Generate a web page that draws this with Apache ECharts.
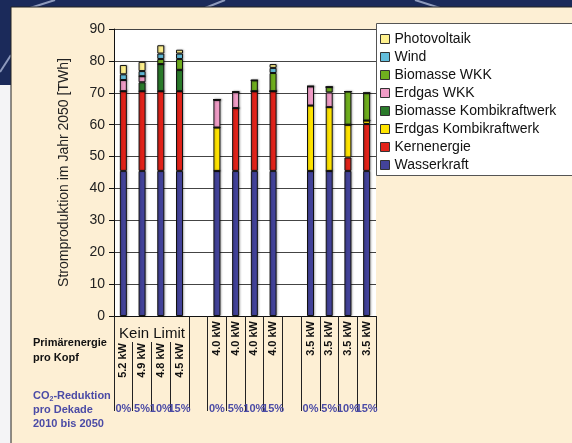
<!DOCTYPE html>
<html>
<head>
<meta charset="utf-8">
<script src="https://cdn.jsdelivr.net/npm/echarts@6/dist/echarts.min.js"></script>
<style>
html, body { margin: 0; padding: 0; }
#chart { width: 572px; height: 443px; }
</style>
</head>
<body>
<div id="chart"></div>
<script>
// Szenarien: Primärenergie pro Kopf / CO2-Reduktion pro Dekade ('' = Lücke)
const categories = ['5.2 kW', '4.9 kW', '4.8 kW', '4.5 kW', '', '4.0 kW', '4.0 kW', '4.0 kW', '4.0 kW', '', '3.5 kW', '3.5 kW', '3.5 kW', '3.5 kW'];
const reductions = ['0%', '5%', '10%', '15%', '', '0%', '5%', '10%', '15%', '', '0%', '5%', '10%', '15%'];
const yMin = 0, yMax = 90, yStep = 10;

// Stromproduktion 2050 [TWh], je Technologie (von unten nach oben gestapelt)
const wasserkraft   = [45.5, 45.5, 45.5, 45.5, '-', 45.5, 45.5, 45.5, 45.5, '-', 45.5, 45.5, 45.5, 45.5];
const kernenergie   = [25, 25, 25, 25, '-', 0, 19.7, 25, 25, '-', 0, 0, 4.2, 14.7];
const erdgasKombi   = [0, 0, 0, 0, '-', 13.6, 0, 0, 0, '-', 20.5, 20, 10.3, 1.1];
const biomasseKombi = [0, 2.8, 8.5, 6.7, '-', 0, 0, 0, 0, '-', 0, 0, 0, 0];
const erdgasWKK     = [3.5, 1.9, 0, 0, '-', 8.7, 5, 0, 0, '-', 6, 4.6, 0, 0];
const biomasseWKK   = [0, 0, 1.6, 3.4, '-', 0, 0, 3.4, 5.7, '-', 0, 1.7, 10.4, 8.6];
const wind          = [1.8, 1.6, 1.7, 1.7, '-', 0, 0, 0, 1.6, '-', 0, 0, 0, 0];
const photovoltaik  = [2.9, 2.9, 2.6, 1.2, '-', 0, 0, 0, 1.2, '-', 0, 0, 0, 0];

const seriesList = [
  ['Wasserkraft', wasserkraft, '#43439A'],
  ['Kernenergie', kernenergie, '#E2231A'],
  ['Erdgas Kombikraftwerk', erdgasKombi, '#FFE400'],
  ['Biomasse Kombikraftwerk', biomasseKombi, '#2B7B2B'],
  ['Erdgas WKK', erdgasWKK, '#F09CC6'],
  ['Biomasse WKK', biomasseWKK, '#6FAE1E'],
  ['Wind', wind, '#63BEDC'],
  ['Photovoltaik', photovoltaik, '#FFF18E']
];

const blue = '#4B4BA6';
const font = 'Liberation Sans, Arial, sans-serif';

let myChart = echarts.init(document.getElementById('chart'));
let option = {
  backgroundColor: '#1B2A5A',
  textStyle: { fontFamily: font },
  animation: false,
  grid: {
    left: 114, right: 196, top: 29, bottom: 127,
    outerBoundsMode: 'none',
    show: true, backgroundColor: '#fff', borderWidth: 0
  },
  legend: {
    orient: 'vertical',
    left: 375, top: 27,
    itemWidth: 9, itemHeight: 9, itemGap: 4,
    icon: 'rect',
    data: seriesList.map(s => s[0]).reverse(),
    textStyle: { fontSize: 14, color: '#111', fontFamily: font },
    itemStyle: { borderColor: '#333', borderWidth: 1 }
  },
  xAxis: [
    {
      type: 'category', data: categories, position: 'bottom',
      axisLine: { lineStyle: { color: '#111' } },
      axisTick: { show: true, length: 95, interval: (i) => i < 1 || i > 3, lineStyle: { color: '#222' } },
      axisLabel: {
        interval: 0, rotate: 90, margin: 5, fontSize: 11, fontWeight: 'bold', color: '#111',
        formatter: (v, i) => (i < 4 ? '' : v)
      }
    },
    {
      type: 'category', data: categories, position: 'bottom', offset: 26,
      axisLine: { show: false },
      axisTick: { show: true, length: 69, interval: (i) => i >= 1 && i <= 3, lineStyle: { color: '#222' } },
      axisLabel: {
        interval: 0, rotate: 90, margin: 1, fontSize: 11, fontWeight: 'bold', color: '#111',
        formatter: (v, i) => (i < 4 ? v : '')
      }
    },
    {
      type: 'category', data: categories, position: 'bottom', offset: 85,
      axisLine: { show: false },
      axisTick: { show: false },
      axisLabel: {
        interval: 0, margin: 2, fontSize: 11, fontWeight: 'bold', color: blue,
        formatter: (v, i) => reductions[i]
      }
    }
  ],
  yAxis: {
    type: 'value', min: yMin, max: yMax, interval: yStep,
    name: 'Stromproduktion im Jahr 2050 [TWh]',
    nameLocation: 'middle', nameGap: 43,
    nameTextStyle: { fontSize: 14, color: '#222' },
    axisLine: { show: true, lineStyle: { color: '#111' } },
    axisTick: { show: true, length: 5, lineStyle: { color: '#111' } },
    axisLabel: { fontSize: 14, color: '#222', margin: 9 },
    splitLine: { lineStyle: { color: '#444' } }
  },
  series: seriesList.map(s => ({
    name: s[0],
    type: 'bar',
    stack: 'total',
    xAxisIndex: 0,
    barWidth: 7,
    data: s[1],
    itemStyle: {
      color: s[2], borderColor: '#111', borderWidth: 1,
      shadowColor: 'rgba(0,0,0,0.25)', shadowBlur: 2, shadowOffsetX: 1, shadowOffsetY: 0
    }
  })),
  graphic: [
    // Hintergrund
    { type: 'line', z: -10, shape: { x1: 55, y1: 0, x2: 30, y2: 8 }, style: { stroke: 'rgba(220,230,255,0.6)', lineWidth: 2 } },
    { type: 'line', z: -10, shape: { x1: 205, y1: 8, x2: 225, y2: 0 }, style: { stroke: 'rgba(220,230,255,0.6)', lineWidth: 2 } },
    { type: 'line', z: -10, shape: { x1: 415, y1: 0, x2: 440, y2: 8 }, style: { stroke: 'rgba(220,230,255,0.6)', lineWidth: 2 } },
    { type: 'line', z: -10, shape: { x1: 11, y1: 55, x2: 0, y2: 72 }, style: { stroke: 'rgba(220,230,255,0.6)', lineWidth: 2 } },
    { type: 'rect', z: -10, shape: { x: 0, y: 85, width: 11, height: 358 }, style: { fill: '#F4F4F6' } },
    { type: 'rect', z: -9, shape: { x: 11, y: 7, width: 570, height: 445 }, style: { fill: '#FDEFD4', stroke: '#222', lineWidth: 1 } },
    // Legendenrahmen
    { type: 'rect', z: 3, shape: { x: 376.5, y: 23.5, width: 200, height: 152 }, style: { fill: '#fff', stroke: '#555', lineWidth: 1 } },
    // Beschriftungen
    { type: 'text', z: 5, style: { x: 152, y: 334, text: 'Kein Limit', font: '15px ' + font, fill: '#111', align: 'center', verticalAlign: 'middle' } },
    { type: 'text', z: 5, style: { x: 33, y: 343, text: 'Primärenergie', font: 'bold 11px ' + font, fill: '#111', verticalAlign: 'middle' } },
    { type: 'text', z: 5, style: { x: 33, y: 358, text: 'pro Kopf', font: 'bold 11px ' + font, fill: '#111', verticalAlign: 'middle' } },
    {
      type: 'text', z: 5,
      style: {
        x: 33, y: 396, text: '{a|CO}{s|2}{a|-Reduktion}', verticalAlign: 'middle',
        rich: {
          a: { fontSize: 11, fontWeight: 'bold', fill: blue, fontFamily: font, lineHeight: 14 },
          s: { fontSize: 7, fontWeight: 'bold', fill: blue, fontFamily: font, lineHeight: 8, verticalAlign: 'bottom' }
        }
      }
    },
    { type: 'text', z: 5, style: { x: 33, y: 410, text: 'pro Dekade', font: 'bold 11px ' + font, fill: blue, verticalAlign: 'middle' } },
    { type: 'text', z: 5, style: { x: 33, y: 424, text: '2010 bis 2050', font: 'bold 11px ' + font, fill: blue, verticalAlign: 'middle' } }
  ]
};
myChart.setOption(option);
</script>
</body>
</html>
